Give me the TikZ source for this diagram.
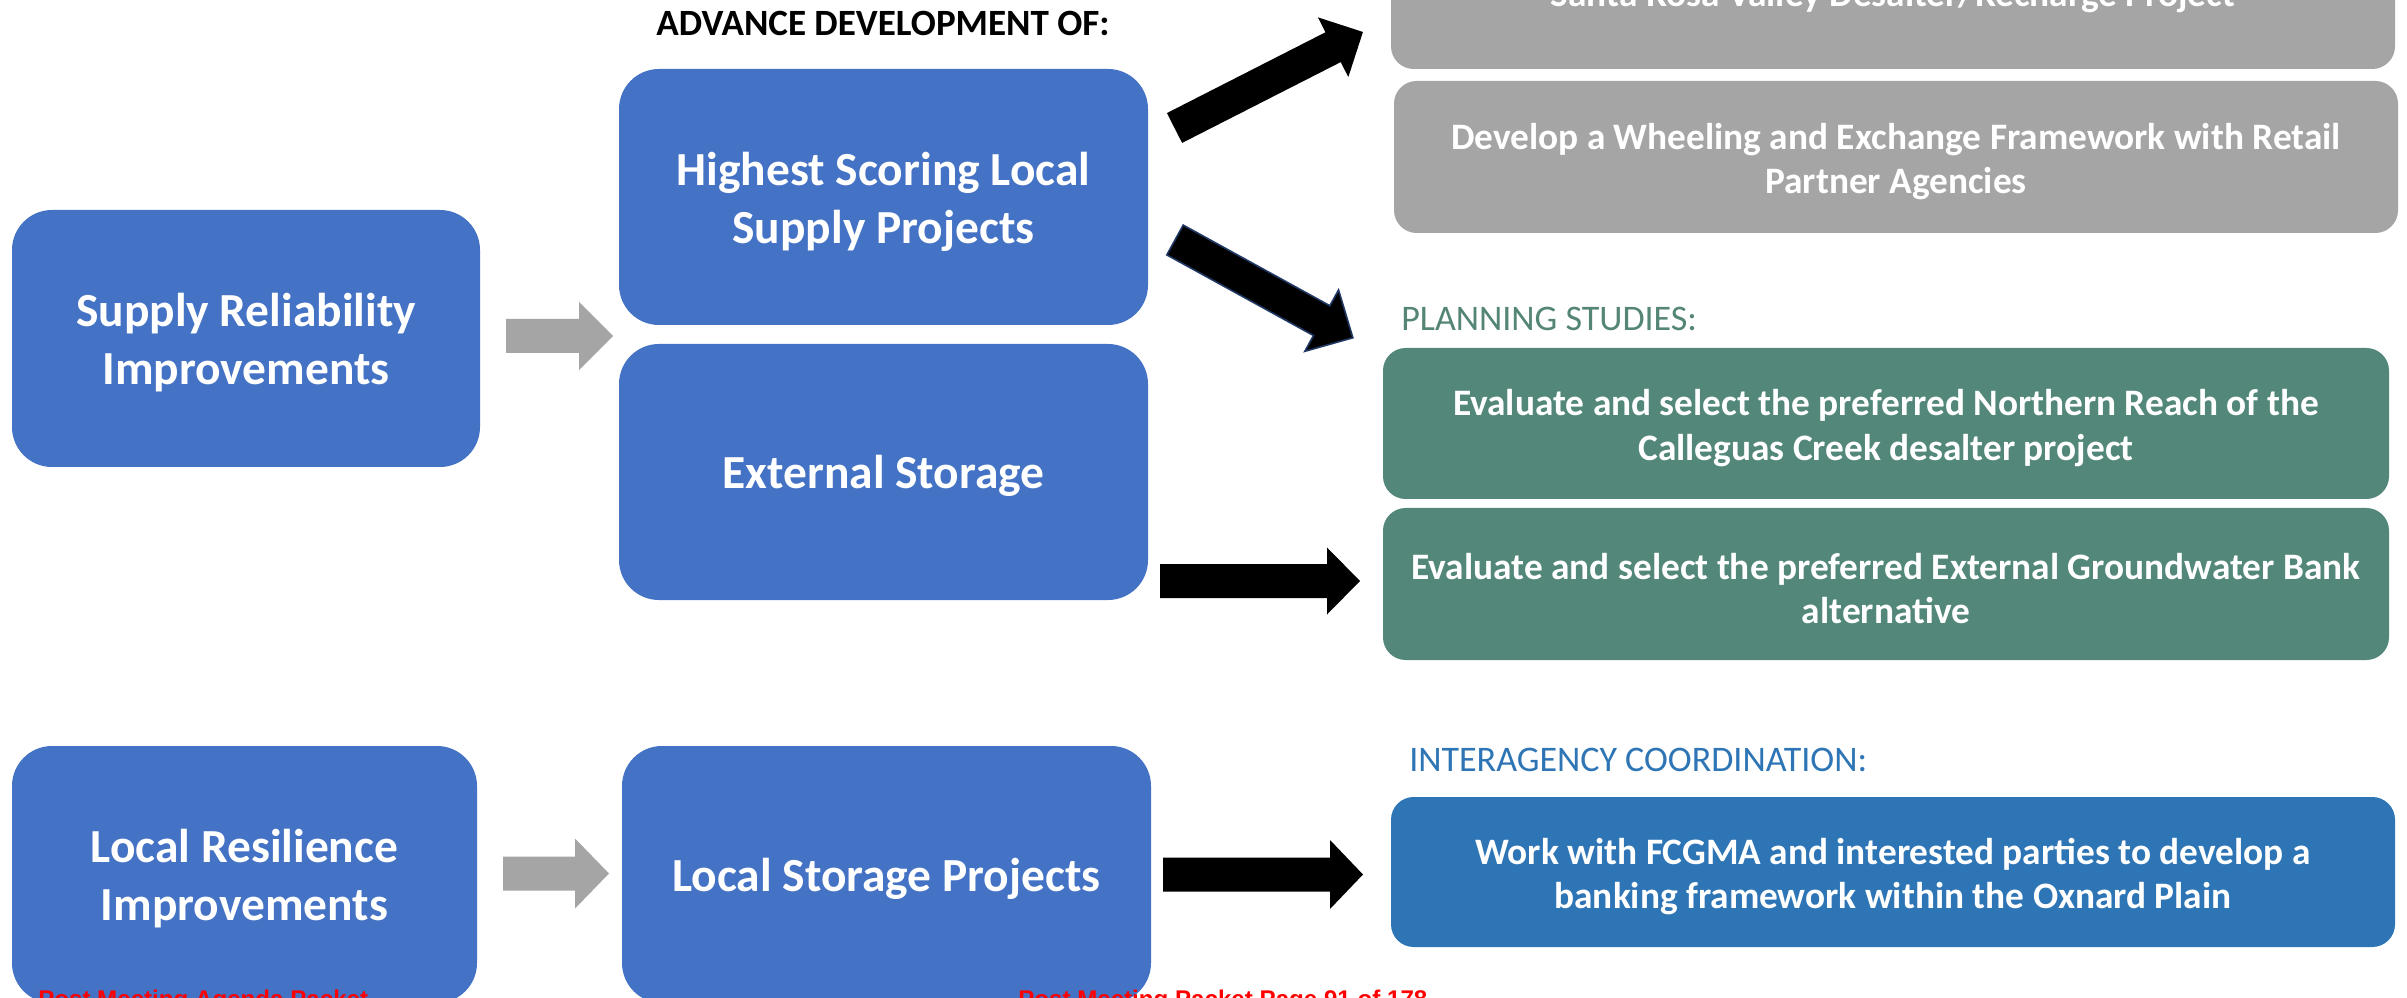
\documentclass[tikz,border=0pt]{standalone}
\usepackage{fontspec}
\setmainfont{Carlito}
\newfontfamily\arialfont{Liberation Sans}
\definecolor{boxblue}{HTML}{4472C4}
\definecolor{boxgray}{HTML}{A5A5A5}
\definecolor{boxteal}{HTML}{52877A}
\definecolor{boxdeep}{HTML}{2E75B6}
\definecolor{tealtext}{HTML}{548577}
\definecolor{deeptext}{HTML}{2E75B6}
\definecolor{outl}{HTML}{203864}
\definecolor{redtext}{HTML}{FF0000}
\newcommand\blockarr[7]{%
  \begin{scope}[shift={#2},rotate=#3]
    \path[#1] (0,-#5) -- ({#4-#7},-#5) -- ({#4-#7},-#6) -- (#4,0) -- ({#4-#7},#6) -- ({#4-#7},#5) -- (0,#5) -- cycle;
  \end{scope}}
\tikzset{
  bigbox/.style={rectangle, rounded corners=30pt, fill=boxblue, inner sep=0pt},
  bigtxt/.style={text=white, font=\bfseries\fontsize{35.6}{43.5}\selectfont, align=center, inner sep=0pt},
  smallbox/.style={rectangle, rounded corners=17pt, inner sep=0pt},
  smalltxt/.style={text=white, font=\bfseries\fontsize{28}{33.4}\selectfont, align=center, inner sep=0pt},
  heading/.style={inner sep=0pt, font=\fontsize{27}{33}\selectfont},
  grayarr/.style={fill=boxgray},
  blackarr/.style={fill=black},
  redlabel/.style={inner sep=0pt, text=redtext, font=\arialfont\bfseries\fontsize{18.1}{20}\selectfont}
}
\begin{document}
\begin{tikzpicture}[x=0.75pt,y=-0.75pt]
\useasboundingbox (0,0) rectangle (2407,998);
\clip (0,0) rectangle (2407,998);
\fill[white] (0,0) rectangle (2407,998);

% left column
\node[bigbox, minimum width=351pt, minimum height=192.75pt] (sup) at (246,338.5) {};
\node[bigtxt] (supt) at ([yshift=-3.4pt]sup.center) {Supply Reliability\\Improvements};
\node[bigbox, minimum width=348.75pt, minimum height=192.75pt] (res) at (244.5,874.5) {};
\node[bigtxt] (rest) at ([yshift=-3.4pt]res.center) {Local Resilience\\Improvements};

% middle column
\node[inner sep=0pt, font=\bfseries\fontsize{27.8}{33}\selectfont] (adv) at (883,23) {ADVANCE DEVELOPMENT OF:};
\node[bigbox, minimum width=396.75pt, minimum height=192pt] (hs) at (883.5,197) {};
\node[bigtxt] (hst) at ([yshift=-3.4pt]hs.center) {Highest Scoring Local\\Supply Projects};
\node[bigbox, minimum width=396.75pt, minimum height=192pt] (ext) at (883.5,472) {};
\node[bigtxt] (extt) at ([yshift=-3pt]ext.center) {External Storage};
\node[bigbox, minimum width=396.75pt, minimum height=192.75pt] (lsp) at (886.5,874.5) {};
\node[bigtxt] (lspt) at ([yshift=-3pt]lsp.center) {Local Storage Projects};

% right column
\node[smallbox, fill=boxgray, minimum width=753pt, minimum height=114pt] (g1) at (1893,-7) {};
\node[smalltxt] (g1t) at ([yshift=-2.5pt]g1.center) {Santa Rosa Valley Desalter/Recharge Project};
\node[smallbox, fill=boxgray, minimum width=753pt, minimum height=114pt] (g2) at (1896,157) {};
\node[smalltxt] (g2t) at ([yshift=-3.4pt]g2.center) {Develop a Wheeling and Exchange Framework with Retail\\Partner Agencies};
\node[heading, text=tealtext, anchor=west] (plan) at (1401,319) {PLANNING STUDIES:};
\node[smallbox, fill=boxteal, minimum width=754.5pt, minimum height=113.25pt] (t1) at (1886,423.5) {};
\node[smalltxt] (t1t) at ([yshift=-3.4pt]t1.center) {Evaluate and select the preferred Northern Reach of the\\Calleguas Creek desalter project};
\node[smallbox, fill=boxteal, minimum width=754.5pt, minimum height=114pt] (t2) at (1886,584) {};
\node[smalltxt] (t2t) at ([yshift=-3.4pt]t2.center) {Evaluate and select the preferred External Groundwater Bank\\alternative};
\node[heading, text=deeptext, anchor=west] (inter) at (1409,760) {INTERAGENCY COORDINATION:};
\node[smallbox, fill=boxdeep, minimum width=753pt, minimum height=112.5pt] (b1) at (1893,872) {};
\node[smalltxt] (b1t) at ([yshift=-3.4pt]b1.center) {Work with FCGMA and interested parties to develop a\\banking framework within the Oxnard Plain};

% block arrows
\blockarr{grayarr}{(506,336)}{0}{107}{17}{34}{34}
\blockarr{grayarr}{(503,873.5)}{0}{106}{17}{35}{34}
\blockarr{blackarr}{(1160,581)}{0}{200}{17}{33.5}{33}
\blockarr{blackarr}{(1163,874.5)}{0}{200}{17}{34.5}{33}
\blockarr{blackarr}{(1174.5,128)}{27}{211.5}{16.75}{33.5}{33.5}
\blockarr{blackarr, draw=outl, line width=1.2pt}{(1175,240)}{-28.8}{203}{17}{35}{35.6}

% footer labels (cut off at the bottom edge)
\node[redlabel, anchor=base west] (pm1) at (38,1007) {Post Meeting Agenda Packet};
\node[redlabel, anchor=base west] (pm2) at (1018,1007) {Post Meeting Packet Page 91 of 178};
\end{tikzpicture}
\end{document}
